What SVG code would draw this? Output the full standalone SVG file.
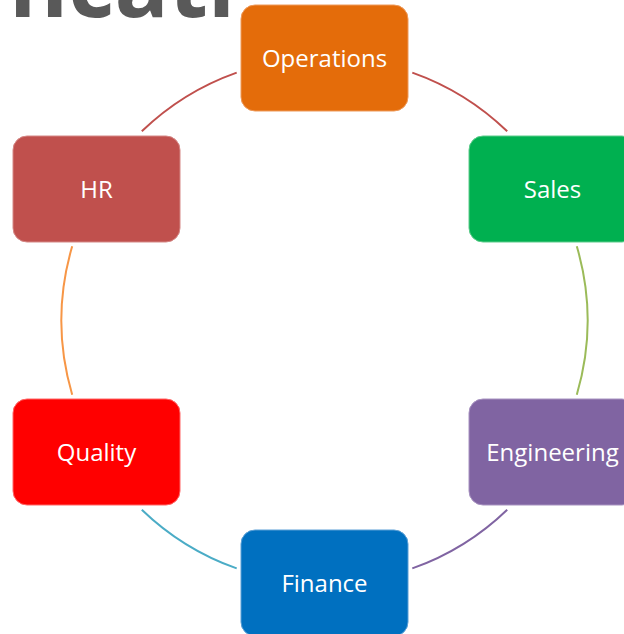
<svg xmlns="http://www.w3.org/2000/svg" width="624" height="634" viewBox="0 0 624 634">
<style>
.box{stroke-width:1;}
.lbl{font-family:"Open Sans","Liberation Sans",sans-serif;font-size:24px;fill:#ffffff;text-anchor:middle;}
.arc{fill:none;stroke-width:2;}
.title{font-family:"Open Sans","Liberation Sans",sans-serif;font-weight:bold;font-size:90px;fill:#595959;}
</style>
<rect width="624" height="634" fill="#ffffff"/>
<text class="title" x="9" y="17">ncati</text>
<g id="connectors">
<path class="arc" stroke="#C0504D" d="M412.3,72.6 A263,263 0 0 1 507.2,131.3"/>
<path class="arc" stroke="#9BBB59" d="M576.8,246.3 A263,263 0 0 1 576.8,394.7"/>
<path class="arc" stroke="#8064A2" d="M507.2,509.7 A263,263 0 0 1 412.3,568.4"/>
<path class="arc" stroke="#4BACC6" d="M236.7,568.4 A263,263 0 0 1 141.8,509.7"/>
<path class="arc" stroke="#F79646" d="M72.2,394.7 A263,263 0 0 1 72.2,246.3"/>
<path class="arc" stroke="#C0504D" d="M141.8,131.3 A263,263 0 0 1 236.7,72.6"/>
</g>
<g id="operations"><rect class="box" x="241" y="5" width="167" height="106" rx="14" fill="#E46C0A" stroke="#EE9A5A"/><text class="lbl" x="324.5" y="66.5">Operations</text></g>
<g id="sales"><rect class="box" x="469" y="136" width="167" height="106" rx="14" fill="#00B050" stroke="#5CCB8A"/><text class="lbl" x="552.5" y="197.5">Sales</text></g>
<g id="engineering"><rect class="box" x="469" y="399" width="167" height="106" rx="14" fill="#8064A2" stroke="#A792C0"/><text class="lbl" x="552.5" y="460.5">Engineering</text></g>
<g id="finance"><rect class="box" x="241" y="530" width="167" height="106" rx="14" fill="#0070C0" stroke="#5A9FD6"/><text class="lbl" x="324.5" y="591.5">Finance</text></g>
<g id="quality"><rect class="box" x="13" y="399" width="167" height="106" rx="14" fill="#FF0000" stroke="#FF6666"/><text class="lbl" x="96.5" y="460.5">Quality</text></g>
<g id="hr"><rect class="box" x="13" y="136" width="167" height="106" rx="14" fill="#C0504D" stroke="#D58886"/><text class="lbl" x="96.5" y="197.5">HR</text></g>
</svg>
